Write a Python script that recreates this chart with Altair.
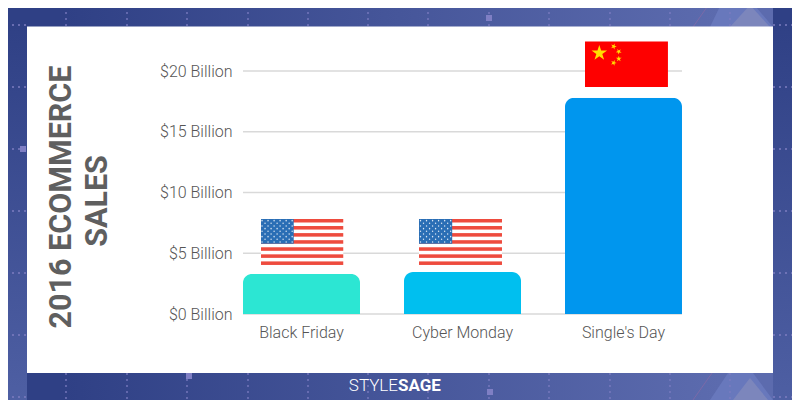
import math
import urllib.parse
import altair as alt
import pandas as pd

# ---------- data ----------
categories = ["Black Friday", "Cyber Monday", "Single's Day"]
sales = [3.3, 3.45, 17.8]
bar_colors = ["#2CE6D3", "#00BFEF", "#0096EE"]
grid_values = [0, 5, 10, 15, 20]
flag_categories = ["Black Friday", "Cyber Monday", "Single's Day"]
flag_levels = [5.93, 5.93, 20.55]
flag_shift = [59, 56.5, 61.5]
title_lines = ["2016 ECOMMERCE", "SALES"]
logo_parts = ["STYLE", "SAGE"]

# ---------- decorative artwork ----------
grid_xs = [66, 127, 187, 248, 308, 368, 428, 489, 549, 610, 670, 730]
grid_ys = [25, 87, 149, 211, 273, 335, 397]
squares = [(187, 4), (489, 18), (189, 376), (490, 392), (23, 149), (797, 149)]

def background_svg():
    p = []
    p.append('<svg xmlns="http://www.w3.org/2000/svg" width="784" height="392" viewBox="8 8 784 392">')
    p.append('<defs>'
             '<linearGradient id="h" gradientUnits="userSpaceOnUse" x1="0" x2="800" y1="0" y2="0">'
             '<stop offset="0.08" stop-color="#2F4085"/><stop offset="0.9" stop-color="#5C6BAE"/></linearGradient>'
             '<linearGradient id="v" x1="0" x2="0" y1="0" y2="1">'
             '<stop offset="0.05" stop-color="#2F4085"/><stop offset="1" stop-color="#4E5FA3"/></linearGradient>'
             '</defs>')
    p.append('<rect x="0" y="0" width="800" height="400" fill="url(#h)"/>')
    p.append('<path d="M710 27L723 0H750L773 27Z M710 400L728 373H753L773 400Z" fill="#6878BC"/>')
    p.append('<path d="M730 27L750 5L770 27Z M733 400L750 378L768 400Z" fill="#7C86BC"/>')
    p.append('<path d="M693 27L712 0 M693 400L712 373" stroke="#7A6AA8" stroke-width="1" fill="none"/>')
    p.append('<rect x="0" y="0" width="27" height="400" fill="url(#v)"/>')
    p.append('<rect x="773" y="0" width="27" height="400" fill="url(#v)"/>')
    for x in grid_xs:
        p.append(f'<path d="M{x} 0V27M{x} 373V400" stroke="#7C7CC0" stroke-width="1.3" stroke-dasharray="2 4" fill="none"/>')
    for y in grid_ys:
        p.append(f'<path d="M0 {y}H27M773 {y}H800" stroke="#7C7CC0" stroke-width="1.3" stroke-dasharray="2 4" fill="none"/>')
    for x, y in squares:
        p.append(f'<rect x="{x-3}" y="{y-3}" width="6" height="6" fill="#7F7FC4"/>')
    p.append('<rect x="27" y="26.5" width="746" height="346.5" fill="#FFFFFF"/>')
    p.append('</svg>')
    return "".join(p)

def us_flag_svg():
    p = ['<svg xmlns="http://www.w3.org/2000/svg" width="166" height="92" viewBox="0 0 130 65" preserveAspectRatio="none">']
    p.append('<rect width="130" height="65" fill="#FFFFFF"/>')
    for i in range(0, 13, 2):
        p.append(f'<rect y="{i*5}" width="130" height="5" fill="#EE4B3E"/>')
    p.append('<rect width="52" height="35" fill="#2A6EB5"/>')
    for r in range(9):
        for c in range(11):
            if (r + c) % 2 == 0:
                p.append(f'<circle cx="{2.4+c*4.72:.1f}" cy="{2.4+r*3.77:.1f}" r="1.1" fill="#DDE8F4"/>')
    p.append('</svg>')
    return "".join(p)

def star(cx, cy, r, rot=0):
    pts = []
    for i in range(10):
        a = math.radians(-90 + rot + i * 36)
        rr = r if i % 2 == 0 else r * 0.382
        pts.append(f"{cx+rr*math.cos(a):.2f},{cy+rr*math.sin(a):.2f}")
    return f'<polygon points="{" ".join(pts)}" fill="#FFDE00"/>'

def cn_flag_svg():
    p = ['<svg xmlns="http://www.w3.org/2000/svg" width="162" height="90" viewBox="0 0 81 45" preserveAspectRatio="none">']
    p.append('<rect width="81" height="45" fill="#FE0000"/>')
    p.append(star(14, 11.5, 8))
    p.append(star(28, 5, 3, 20))
    p.append(star(33, 10, 3, 40))
    p.append(star(33, 17, 3, 0))
    p.append(star(28, 21, 3, 20))
    p.append('</svg>')
    return "".join(p)

def uri(svg):
    return "data:image/svg+xml," + urllib.parse.quote(svg, safe="")

FONT = "Roboto"
X = alt.X("name:N", sort=categories, title=None,
          scale=alt.Scale(domain=categories, range=[0, 439], paddingInner=0.273, paddingOuter=0),
          axis=alt.Axis(labelAngle=0, labelFont=FONT, labelFontWeight=300, labelFontSize=16,
                        labelColor="#555555", labelPadding=10, tickSize=0, domain=False,
                        grid=False, zindex=1))
Y = alt.Y("value:Q", title=None,
          scale=alt.Scale(domain=[0, 22.47], range=[273, 0], nice=False, zero=True),
          axis=alt.Axis(values=grid_values, labelExpr="'$' + datum.value + ' Billion'",
                        labelFont=FONT, labelFontWeight=300, labelFontSize=16,
                        labelColor="#555555", labelPadding=11, tickSize=0, domain=False,
                        grid=False, zindex=1))

bg = alt.Chart(pd.DataFrame({"u": [uri(background_svg())]})).mark_image(
    width=784, height=392, align="left", baseline="top", aspect=False
).encode(url="u:N", x=alt.value(-235), y=alt.value(-33))

grid = alt.Chart(pd.DataFrame({"value": grid_values})).mark_rule(
    color="#D9D9D9", strokeWidth=1.5
).encode(y=Y)

bars = alt.Chart(pd.DataFrame({"name": categories, "value": sales, "c": bar_colors})).mark_bar(
    cornerRadiusTopLeft=9, cornerRadiusTopRight=9
).encode(x=X, y=Y, color=alt.Color("c:N", scale=None))

flag_urls = [uri(us_flag_svg()), uri(us_flag_svg()), uri(cn_flag_svg())]
flags = alt.Chart(pd.DataFrame({"name": flag_categories, "value": flag_levels, "u": flag_urls, "s": flag_shift})).mark_image(
    width=83, height=46, aspect=False
).encode(x=X, y=Y, url="u:N", xOffset=alt.XOffset("s:Q", scale=None))

title1 = alt.Chart(pd.DataFrame({"t": [title_lines[0]]})).mark_text(
    angle=270, font=FONT, fontWeight=700, fontSize=30.5, color="#5F5F5F", align="center", baseline="middle"
).encode(text="t:N", x=alt.value(62 - 243), y=alt.value(197 - 41))
title2 = alt.Chart(pd.DataFrame({"t": [title_lines[1]]})).mark_text(
    angle=270, font=FONT, fontWeight=700, fontSize=30.5, color="#5F5F5F", align="center", baseline="middle"
).encode(text="t:N", x=alt.value(98 - 243), y=alt.value(201 - 41))

logo1 = alt.Chart(pd.DataFrame({"t": [logo_parts[0]]})).mark_text(
    font=FONT, fontWeight=300, fontSize=17, color="#FFFFFF", align="right", baseline="middle"
).encode(text="t:N", x=alt.value(398 - 243), y=alt.value(386 - 41))
logo2 = alt.Chart(pd.DataFrame({"t": [logo_parts[1]]})).mark_text(
    font=FONT, fontWeight=700, fontSize=17, color="#FFFFFF", align="left", baseline="middle"
).encode(text="t:N", x=alt.value(398 - 243), y=alt.value(386 - 41))

chart = alt.layer(bg, grid, bars, flags, title1, title2, logo1, logo2).resolve_scale(
    color="independent"
).properties(
    width=439, height=273,
    autosize=alt.AutoSizeParams(type="none"),
    padding={"left": 235, "top": 33, "right": 110, "bottom": 86},
    background="#FFFFFF",
).configure_view(stroke=None)

chart.save("out.html", embed_options={"renderer": "svg", "actions": False})
